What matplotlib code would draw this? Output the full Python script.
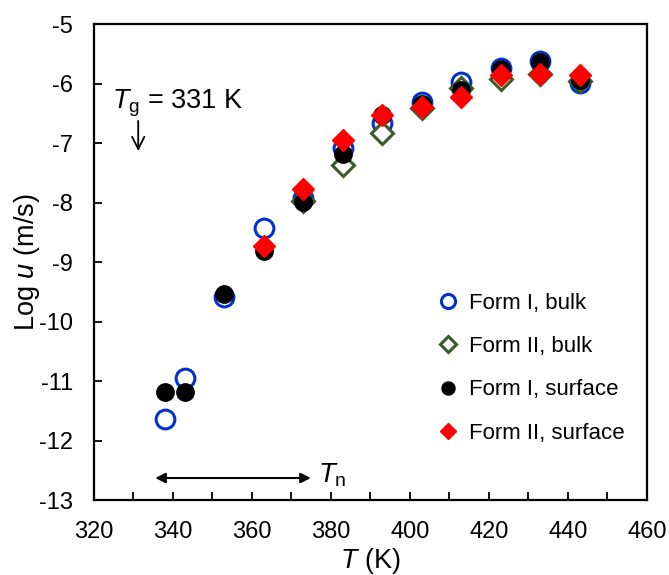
import matplotlib.pyplot as plt
from matplotlib.ticker import MultipleLocator

plt.rcParams['font.family'] = ['Liberation Sans', 'DejaVu Sans']
plt.rcParams['mathtext.fontset'] = 'custom'
plt.rcParams['mathtext.it'] = 'Liberation Sans:italic'
plt.rcParams['mathtext.rm'] = 'Liberation Sans'
plt.rcParams['axes.unicode_minus'] = False

# Form I, bulk
t1b = [338, 343, 353, 363, 373, 383, 393, 403, 413, 423, 433, 443]
u1b = [-11.64, -10.95, -9.59, -8.43, -7.93, -7.08, -6.66, -6.31, -5.98, -5.73, -5.62, -5.99]
# Form II, bulk
t2b = [373, 383, 393, 403, 413, 423, 433, 443]
u2b = [-7.98, -7.37, -6.83, -6.41, -6.08, -5.93, -5.84, -5.96]
# Form I, surface
t1s = [338, 343, 353, 363, 373, 383, 393, 403, 413, 423, 433, 443]
u1s = [-11.18, -11.18, -9.53, -8.82, -7.99, -7.19, -6.53, -6.35, -6.1, -5.76, -5.64, -5.94]
# Form II, surface
t2s = [363, 373, 383, 393, 403, 413, 423, 433, 443]
u2s = [-8.73, -7.77, -6.94, -6.52, -6.39, -6.22, -5.86, -5.84, -5.86]

fig, ax = plt.subplots(figsize=(6.69, 5.75), dpi=100)
fig.subplots_adjust(left=0.1405, right=0.967, top=0.958, bottom=0.1304)

ax.plot(t1b, u1b, 'o', ls='none', mfc='white', mec='#0033cc', mew=2.2, ms=13.5,
        label='Form I, bulk')
ax.plot(t2b, u2b, 'D', ls='none', mfc='white', mec='#3a5a28', mew=2.2, ms=11.5,
        label='Form II, bulk')
ax.plot(t1s, u1s, 'o', ls='none', mfc='black', mec='black', ms=12.5,
        label='Form I, surface')
ax.plot(t2s, u2s, 'D', ls='none', mfc='red', mec='red', ms=11,
        label='Form II, surface')

ax.set_xlim(320, 460)
ax.set_ylim(-13, -5)
ax.xaxis.set_major_locator(MultipleLocator(20))
ax.xaxis.set_minor_locator(MultipleLocator(10))
ax.yaxis.set_major_locator(MultipleLocator(1))
ax.tick_params(which='both', direction='in', labelsize=17, width=1.3, length=5.5)
ax.tick_params(axis='x', pad=15)
ax.tick_params(axis='y', pad=15)
for s in ax.spines.values():
    s.set_linewidth(1.6)

ax.set_xlabel(r'$T$ (K)', fontsize=19.5, labelpad=2)
ax.set_ylabel(r'Log $u$ (m/s)', fontsize=19.5, labelpad=-2)

ax.text(324.6, -6.41, r'$T_{\mathrm{g}}$ = 331 K', fontsize=19.5, va='baseline')
ax.annotate('', xy=(331.2, -7.18), xytext=(331.2, -6.58),
            arrowprops=dict(arrowstyle='->', color='black', lw=1.3,
                            mutation_scale=22))
ax.annotate('', xy=(334.8, -12.63), xytext=(375.6, -12.63),
            arrowprops=dict(arrowstyle='<|-|>', color='black', lw=1.5,
                            mutation_scale=15))
ax.text(376.8, -12.71, r'$T_{\mathrm{n}}$', fontsize=20, va='baseline')

ax.legend(loc='center left', bbox_to_anchor=(0.582, 0.277), frameon=False,
          fontsize=16, markerscale=0.75, handletextpad=0.4, labelspacing=1.0,
          handlelength=1.1)

fig.savefig('out.png', dpi=100)
